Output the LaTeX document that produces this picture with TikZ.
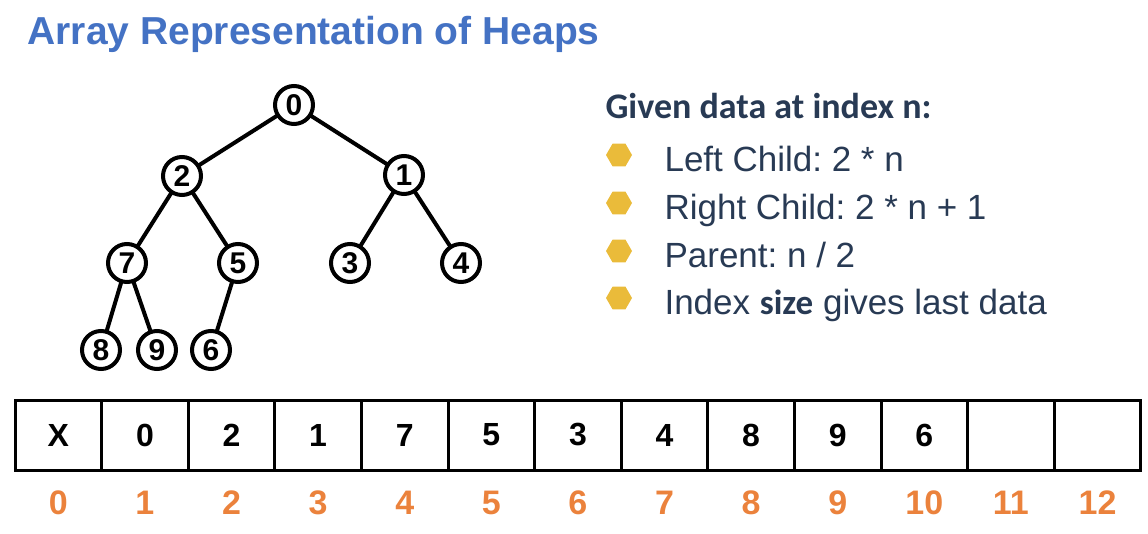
\documentclass[tikz,border=0pt]{standalone}
\usepackage{fontspec}
\setmainfont{Liberation Sans}
\newfontfamily\calibri{Carlito}
\usetikzlibrary{shapes.geometric}
\frenchspacing

\definecolor{titleblue}{RGB}{68,114,196}
\definecolor{navy}{RGB}{40,58,84}
\definecolor{hexyellow}{RGB}{234,187,58}
\definecolor{idxorange}{RGB}{235,130,60}

\begin{document}
\begin{tikzpicture}[
    x=1pt,
    y=-1pt,
    heapnode/.style={circle, draw=black, fill=white, line width=4pt, minimum size=38pt, inner sep=0pt, font=\fontsize{30}{30}\selectfont\bfseries},
    branch/.style={draw=black, line width=4pt},
    cell/.style={draw=black, line width=3pt, minimum width=86.6pt, minimum height=70pt, inner sep=0pt, font=\fontsize{32}{32}\selectfont\bfseries},
    idx/.style={text=idxorange, font=\fontsize{34}{34}\selectfont\bfseries},
    hexbullet/.style={regular polygon, regular polygon sides=6, fill=hexyellow, minimum size=26pt, inner sep=0pt},
    rule/.style={anchor=base west, text=navy, font=\fontsize{35}{40}\selectfont}
]
    \useasboundingbox (0,0) rectangle (1148,534);

    \node[anchor=base west, text=titleblue, font=\fontsize{39}{44}\selectfont\bfseries] (title) at (24,45) {Array Representation of Heaps};

    % heap as a tree
    \foreach \n/\x/\y in {
        0/294/105, 2/182/176, 1/404/175,
        7/127/263, 5/238/263, 3/350/263, 4/461/263,
        8/101/350, 9/157/350, 6/211/350
    }{
        \coordinate (p\n) at (\x,\y);
    }

    \draw[branch] (p0) -- (p2) (p0) -- (p1);
    \draw[branch] (p2) -- (p7) (p2) -- (p5) (p1) -- (p3) (p1) -- (p4);
    \draw[branch] (p7) -- (p8) (p7) -- (p9) (p5) -- (p6);

    \foreach \n in {0,2,1,7,5,3,4,8,9,6}{
        \node[heapnode] (h\n) at (p\n) {\n};
    }

    % rules
    \node[anchor=base west, text=navy, font=\fontsize{36}{40}\selectfont\calibri\bfseries] (given) at (602,119) {Given data at index n:};
    \foreach \k/\y/\txt in {
        1/155/{Left Child: 2 * n},
        2/203/{Right Child: 2 * n + 1},
        3/251/{Parent: n / 2},
        4/298/{Index {\calibri\bfseries size} gives last data}
    }{
        \node[hexbullet] (bul\k) at (619,\y) {};
        \node[rule] (rule\k) at (661,\y+17) {\txt};
    }

    % heap as an array
    \foreach \i/\v in {0/X, 1/0, 2/2, 3/1, 4/7, 5/5, 6/3, 7/4, 8/8, 9/9, 10/6, 11/, 12/}{
        \node[cell] (c\i) at ({58.3+86.6*\i},435) {\v};
        \node[idx] (i\i) at ({58.3+86.6*\i},503) {\i};
    }

\end{tikzpicture}
\end{document}
